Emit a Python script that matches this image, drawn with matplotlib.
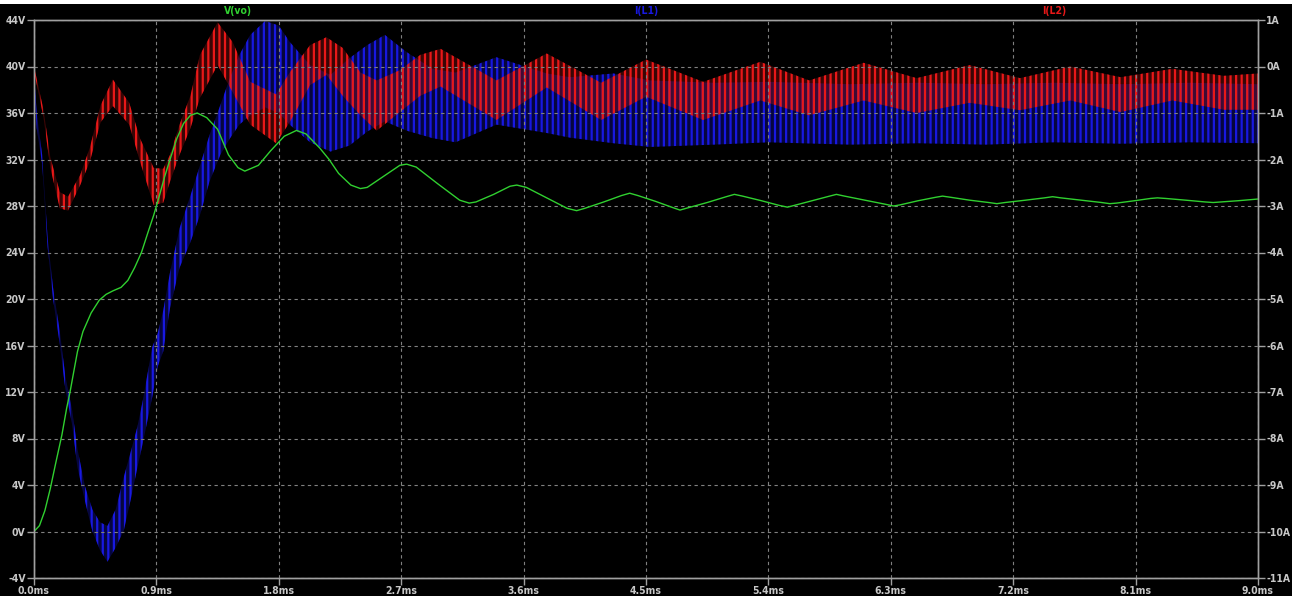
import matplotlib
matplotlib.use('Agg')
import matplotlib.pyplot as plt
from matplotlib.patches import Rectangle

# V(vo), volts
t_vo = [0.00, 0.04, 0.08, 0.12, 0.16, 0.205, 0.24, 0.265, 0.29, 0.32, 0.36, 0.42,
        0.48, 0.53, 0.58, 0.64, 0.69, 0.74, 0.79, 0.84, 0.88, 0.92, 0.96, 1.00,
        1.05, 1.10, 1.15, 1.20, 1.27, 1.35, 1.43, 1.50, 1.55, 1.65, 1.74, 1.84,
        1.93, 2.00, 2.10, 2.17, 2.24, 2.33, 2.40, 2.45, 2.57, 2.69, 2.74, 2.81,
        2.97, 3.13, 3.20, 3.25, 3.38, 3.50, 3.55, 3.62, 3.77, 3.92, 3.99, 4.05,
        4.19, 4.32, 4.38, 4.44, 4.57, 4.70, 4.75, 4.81, 4.95, 5.09, 5.15, 5.21,
        5.35, 5.48, 5.54, 5.59, 5.72, 5.85, 5.90, 5.96, 6.11, 6.26, 6.32, 6.37,
        6.50, 6.63, 6.68, 6.74, 6.88, 7.02, 7.08, 7.14, 7.29, 7.43, 7.49, 7.55,
        7.70, 7.85, 7.91, 7.96, 8.09, 8.21, 8.26, 8.32, 8.47, 8.61, 8.67, 8.73,
        8.85, 9.00]
vo = [0.0, 0.5, 1.8, 3.7, 5.9, 8.3, 10.6, 12.0, 13.6, 15.5, 17.2, 18.8,
      19.9, 20.4, 20.7, 21.0, 21.6, 22.7, 24.0, 25.8, 27.2, 28.8, 30.5, 32.0,
      33.8, 35.1, 35.8, 36.0, 35.6, 34.6, 32.4, 31.3, 31.0, 31.5, 32.75, 34.0,
      34.5, 34.2, 33.0, 32.0, 30.8, 29.8, 29.5, 29.6, 30.55, 31.5, 31.6, 31.35,
      29.9, 28.5, 28.25, 28.35, 29.0, 29.7, 29.8, 29.6, 28.7, 27.8, 27.6, 27.8,
      28.35, 28.9, 29.1, 28.9, 28.4, 27.85, 27.65, 27.85, 28.3, 28.8, 29.0, 28.85,
      28.45, 28.05, 27.9, 28.05, 28.45, 28.85, 29.0, 28.85, 28.5, 28.15, 28.0, 28.1,
      28.45, 28.75, 28.85, 28.75, 28.5, 28.3, 28.2, 28.3, 28.5, 28.7, 28.8, 28.7,
      28.5, 28.3, 28.2, 28.25, 28.45, 28.65, 28.7, 28.65, 28.5, 28.35, 28.3, 28.35,
      28.45, 28.6]

# I(L1), amperes: upper and lower edge of the switching ripple
t_l1 = [0.00, 0.02, 0.06, 0.10, 0.14, 0.19, 0.23, 0.28, 0.32, 0.375, 0.43, 0.485,
        0.54, 0.60, 0.66, 0.71, 0.76, 0.80, 0.87, 0.91, 0.95, 1.00, 1.07, 1.15,
        1.22, 1.29, 1.37, 1.44, 1.51, 1.59, 1.70, 1.80, 1.88, 2.03, 2.18, 2.32,
        2.45, 2.58, 2.74, 2.93, 3.10, 3.40, 3.77, 3.94, 4.26, 4.53, 5.00, 5.40,
        6.00, 6.50, 7.00, 7.50, 8.00, 8.50, 9.00]
l1_hi = [-0.13, -1.00, -1.90, -3.68, -4.75, -5.70, -6.65, -7.38, -8.23, -9.03, -9.53, -9.80,
         -9.88, -9.53, -8.83, -8.30, -7.75, -7.18, -6.03, -5.73, -5.25, -4.43, -3.48, -2.78,
         -2.13, -1.48, -0.83, -0.25, 0.25, 0.68, 0.98, 0.88, 0.53, 0.03, -0.18, 0.18,
         0.46, 0.68, 0.31, -0.05, -0.13, 0.20, -0.15, -0.23, -0.15, -0.30, -0.35, -0.33,
         -0.38, -0.35, -0.38, -0.35, -0.38, -0.35, -0.38]
l1_lo = [-0.25, -1.33, -2.10, -3.88, -5.00, -5.98, -6.93, -7.70, -8.63, -9.35, -10.00, -10.40,
         -10.65, -10.35, -9.98, -9.33, -8.63, -8.10, -7.10, -6.45, -6.13, -5.20, -4.33, -3.78,
         -3.20, -2.48, -1.90, -1.55, -1.25, -1.05, -0.88, -1.00, -1.25, -1.63, -1.83, -1.70,
         -1.40, -1.18, -1.38, -1.54, -1.63, -1.25, -1.43, -1.53, -1.65, -1.73, -1.68, -1.63,
         -1.68, -1.65, -1.68, -1.63, -1.66, -1.63, -1.65]

# I(L2), amperes: upper and lower edge of the switching ripple
t_l2 = [0.00, 0.07, 0.12, 0.19, 0.25, 0.34, 0.41, 0.49, 0.58, 0.70, 0.78, 0.88,
        0.95, 1.00, 1.07, 1.15, 1.22, 1.35, 1.46, 1.59, 1.78, 1.88, 2.03, 2.15,
        2.27, 2.40, 2.52, 2.69, 2.84, 2.99, 3.40, 3.77, 4.17, 4.50, 4.92, 5.34,
        5.70, 6.10, 6.49, 6.88, 7.25, 7.62, 7.99, 8.37, 8.75, 9.00]
l2_hi = [0.00, -0.93, -1.95, -2.70, -2.80, -2.33, -1.75, -0.83, -0.28, -0.78, -1.55, -2.18,
         -2.20, -1.90, -1.25, -0.63, 0.25, 0.95, 0.53, -0.33, -0.60, -0.13, 0.46, 0.63,
         0.40, -0.13, -0.30, -0.08, 0.25, 0.38, -0.30, 0.28, -0.35, 0.15, -0.33, 0.10,
         -0.30, 0.08, -0.25, 0.03, -0.25, 0.00, -0.23, -0.05, -0.20, -0.15]
l2_lo = [-0.10, -1.10, -2.18, -3.05, -3.10, -2.55, -2.05, -1.20, -0.85, -1.25, -2.05, -2.98,
         -2.93, -2.48, -1.90, -1.33, -0.68, 0.03, -0.55, -1.25, -1.65, -1.20, -0.40, -0.18,
         -0.63, -1.05, -1.38, -0.98, -0.63, -0.43, -1.15, -0.45, -1.15, -0.65, -1.15, -0.73,
         -1.05, -0.73, -1.00, -0.78, -0.94, -0.73, -0.98, -0.73, -0.93, -0.93]

v_ticks = list(range(-4, 45, 4))
a_ticks = list(range(-11, 2))
time_ticks = [0.0, 0.9, 1.8, 2.7, 3.6, 4.5, 5.4, 6.3, 7.2, 8.1, 9.0]

## style ##
plt.rcParams['font.family'] = ['Liberation Sans Narrow', 'DejaVu Sans']
plt.rcParams['font.weight'] = 'bold'
plt.rcParams['font.stretch'] = 'condensed'
plt.rcParams['hatch.linewidth'] = 1.6

green = '#30d030'
blue = '#1818e0'
red = '#e81818'
label_col = '#c8c8c8'
frame_col = '#a0a0a0'

W, H = 1292, 596
fig = plt.figure(figsize=(W / 100, H / 100), dpi=100, facecolor='black')
ax = fig.add_axes([34 / W, 18 / H, 1224 / W, 558 / H])
ax2 = ax.twinx()
ax2.set_facecolor('black')
ax.set_zorder(ax2.get_zorder() + 1)
ax.patch.set_visible(False)

## current traces (right axis) ##
ax2.fill_between(t_l1, l1_lo, l1_hi, facecolor=(0.09, 0.09, 0.88, 0.28),
                 edgecolor=blue, hatch='|||', linewidth=0)
ax2.fill_between(t_l2, l2_lo, l2_hi, facecolor=(0.9, 0.09, 0.09, 0.25),
                 edgecolor=red, hatch='|||', linewidth=0)
ax2.set_ylim(-11, 1)
ax2.set_yticks(a_ticks)
ax2.set_yticklabels([f'{a}A' for a in a_ticks])

## voltage trace (left axis) ##
ax.plot(t_vo, vo, color=green, linewidth=1.0)
ax.set_xlim(0, 9)
ax.set_ylim(-4, 44)
ax.set_yticks(v_ticks)
ax.set_yticklabels([f'{v}V' for v in v_ticks])
ax.set_xticks(time_ticks)
ax.set_xticklabels([f'{t:.1f}ms' for t in time_ticks])
ax.grid(True, color='#808080', linestyle=(0, (3, 3)), linewidth=0.8)

for a in (ax, ax2):
    for s in a.spines.values():
        s.set_color(frame_col)
        s.set_linewidth(1.0)
    a.tick_params(colors=frame_col, labelcolor=label_col, labelsize=7.5,
                  length=5, width=1, pad=1)

## trace names above the plot ##
fig.text(238 / W, 1 - 11 / H, 'V(vo)', color=green, ha='center', va='center', fontsize=7.5)
fig.text(646 / W, 1 - 11 / H, 'I(L1)', color=blue, ha='center', va='center', fontsize=7.5)
fig.text(1054 / W, 1 - 11 / H, 'I(L2)', color=red, ha='center', va='center', fontsize=7.5)

# white strip along the top edge of the screenshot
fig.patches.append(Rectangle((0, 1 - 4 / H), 1, 4 / H, transform=fig.transFigure,
                             facecolor='white', edgecolor='none'))

fig.savefig('out.png', dpi=100, facecolor='black')
